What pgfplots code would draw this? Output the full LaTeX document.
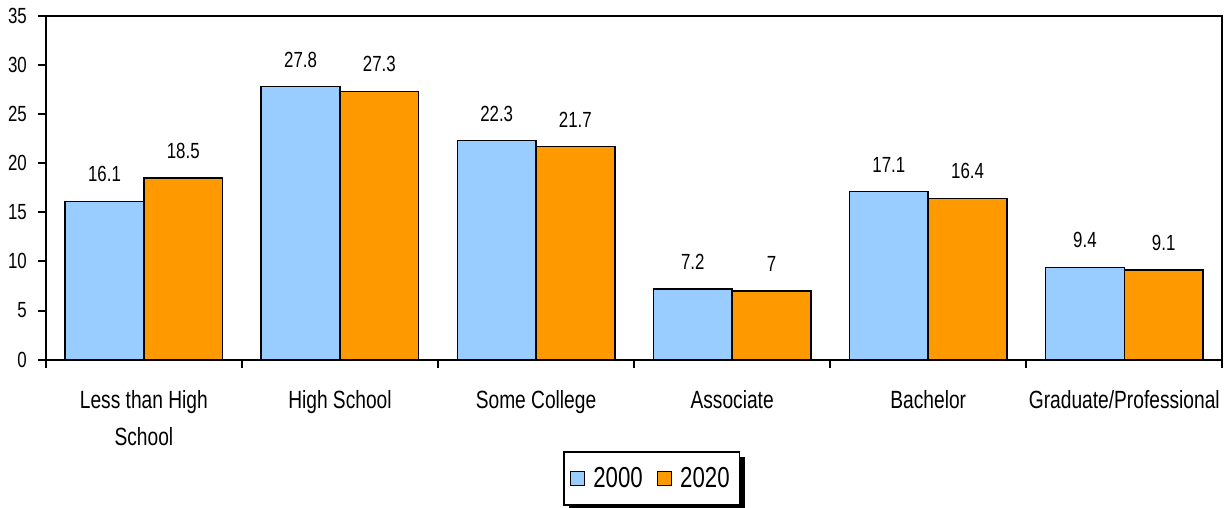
\documentclass[border=0pt]{standalone}
\usepackage{pgfplots}
\pgfplotsset{compat=1.18}
\usepackage{fontspec}
\setmainfont{Liberation Sans}[FakeStretch=0.77]
\usetikzlibrary{shadows}
\definecolor{cblue}{HTML}{99CCFF}
\definecolor{corange}{HTML}{FF9900}
\makeatletter
\tikzset{no preaction/.code={\let\tikz@preactions\pgfutil@empty}}
\makeatother
\begin{document}
\begin{tikzpicture}
\begin{axis}[
  name=ax,
  scale only axis,
  width=590.5pt, height=172.5pt,
  xmin=-0.5, xmax=5.5,
  ymin=0, ymax=35,
  ytick={0,5,...,35},
  xtick={-0.5,0.5,...,5.5},
  xticklabels={},
  extra x ticks={0,1,2,3,4,5},
  extra x tick labels={{Less than High\\School},{High School},{Some College},{Associate},{Bachelor},{Graduate/Professional}},
  extra x tick style={major tick length=0pt},
  xtick pos=lower, ytick pos=left,
  tick align=outside,
  major tick length=4pt,
  tick style={black, line width=1pt},
  axis line style={line width=1.1pt},
  /pgf/number format/assume math mode=true,
  yticklabel style={font=\fontsize{11}{12}\selectfont, xshift=-2pt},
  xticklabel style={font=\fontsize{12.5}{18.5}\selectfont, align=center, yshift=-12pt},
  ybar=0pt,
  bar width=39.5pt,
  nodes near coords,
  every node near coord/.append style={font=\fontsize{11}{12}\selectfont, yshift=6pt, black},
  legend columns=-1,
  legend style={at={(0.515,-0.2667)}, anchor=north, draw=black, line width=0.8pt,
    font=\fontsize{14.5}{17}\selectfont, inner xsep=3pt, inner ysep=5.5pt,
    drop shadow={shadow xshift=2.5pt, shadow yshift=-2.5pt, fill=black, opacity=1},
    /tikz/every odd column/.append style={column sep=2pt},
    /tikz/every even column/.append style={column sep=5pt}},
  legend image code/.code={\draw[no preaction, #1, draw=black, line width=0.8pt] (0pt,-3.5pt) rectangle (7pt,3.5pt);},
]
\addplot[fill=cblue, draw=black, line width=0.8pt] coordinates {(0,16.1) (1,27.8) (2,22.3) (3,7.2) (4,17.1) (5,9.4)};
\addplot[fill=corange, draw=black, line width=0.8pt] coordinates {(0,18.5) (1,27.3) (2,21.7) (3,7) (4,16.4) (5,9.1)};
\legend{2000,2020}
\end{axis}
\path ([shift={(-23pt,-74pt)}]ax.south west) rectangle ([shift={(1pt,8pt)}]ax.north east);
\end{tikzpicture}
\end{document}
